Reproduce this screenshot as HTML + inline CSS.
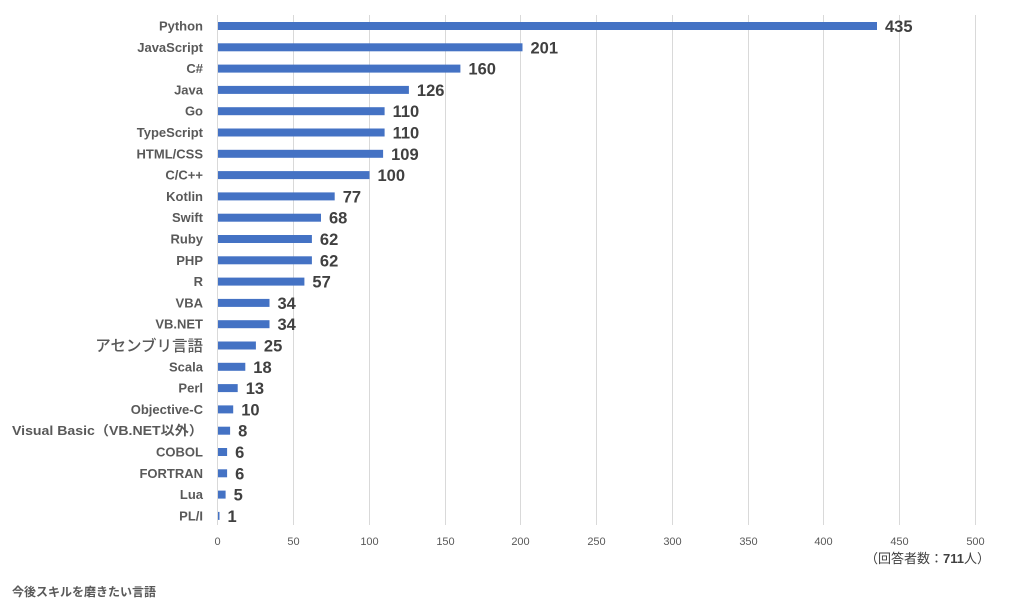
<!DOCTYPE html>
<html><head><meta charset="utf-8"><style>
html,body{margin:0;padding:0;background:#fff;}
svg{display:block;}
.lab{font-family:"Liberation Sans","Noto Sans CJK JP",sans-serif;font-weight:bold;font-size:13px;fill:#595959;}
.val{font-family:"Liberation Sans",sans-serif;font-weight:bold;font-size:16.5px;fill:#404040;}
.tick{font-family:"Liberation Sans",sans-serif;font-size:11px;fill:#595959;}
.bar{fill:#4472C4;}
</style></head><body>
<svg width="1023" height="613" viewBox="0 0 1023 613" xmlns="http://www.w3.org/2000/svg">
<g stroke="#d9d9d9" stroke-width="1">
<line x1="217.5" y1="15" x2="217.5" y2="525"/>
<line x1="293.5" y1="15" x2="293.5" y2="525"/>
<line x1="369.5" y1="15" x2="369.5" y2="525"/>
<line x1="445.5" y1="15" x2="445.5" y2="525"/>
<line x1="520.5" y1="15" x2="520.5" y2="525"/>
<line x1="596.5" y1="15" x2="596.5" y2="525"/>
<line x1="672.5" y1="15" x2="672.5" y2="525"/>
<line x1="748.5" y1="15" x2="748.5" y2="525"/>
<line x1="823.5" y1="15" x2="823.5" y2="525"/>
<line x1="899.5" y1="15" x2="899.5" y2="525"/>
<line x1="975.5" y1="15" x2="975.5" y2="525"/>
</g>
<g class="tick" text-anchor="middle">
<text x="217.5" y="545">0</text>
<text x="293.5" y="545">50</text>
<text x="369.5" y="545">100</text>
<text x="445.5" y="545">150</text>
<text x="520.5" y="545">200</text>
<text x="596.5" y="545">250</text>
<text x="672.5" y="545">300</text>
<text x="748.5" y="545">350</text>
<text x="823.5" y="545">400</text>
<text x="899.5" y="545">450</text>
<text x="975.5" y="545">500</text>
</g>

<g transform="translate(0,26)"><rect class="bar" x="218" y="-4" width="659" height="8"/><text class="lab" x="203" y="4.5" text-anchor="end">Python</text><text class="val" x="885" y="6">435</text></g>
<g transform="translate(0,47.3)"><rect class="bar" x="218" y="-4" width="304.5" height="8"/><text class="lab" x="203" y="4.5" text-anchor="end">JavaScript</text><text class="val" x="530.5" y="6">201</text></g>
<g transform="translate(0,68.6)"><rect class="bar" x="218" y="-4" width="242.4" height="8"/><text class="lab" x="203" y="4.5" text-anchor="end">C#</text><text class="val" x="468.4" y="6">160</text></g>
<g transform="translate(0,89.9)"><rect class="bar" x="218" y="-4" width="190.9" height="8"/><text class="lab" x="203" y="4.5" text-anchor="end">Java</text><text class="val" x="416.9" y="6">126</text></g>
<g transform="translate(0,111.2)"><rect class="bar" x="218" y="-4" width="166.6" height="8"/><text class="lab" x="203" y="4.5" text-anchor="end">Go</text><text class="val" x="392.6" y="6">110</text></g>
<g transform="translate(0,132.5)"><rect class="bar" x="218" y="-4" width="166.6" height="8"/><text class="lab" x="203" y="4.5" text-anchor="end">TypeScript</text><text class="val" x="392.6" y="6">110</text></g>
<g transform="translate(0,153.8)"><rect class="bar" x="218" y="-4" width="165.1" height="8"/><text class="lab" x="203" y="4.5" text-anchor="end">HTML/CSS</text><text class="val" x="391.1" y="6">109</text></g>
<g transform="translate(0,175.1)"><rect class="bar" x="218" y="-4" width="151.5" height="8"/><text class="lab" x="203" y="4.5" text-anchor="end">C/C++</text><text class="val" x="377.5" y="6">100</text></g>
<g transform="translate(0,196.4)"><rect class="bar" x="218" y="-4" width="116.7" height="8"/><text class="lab" x="203" y="4.5" text-anchor="end">Kotlin</text><text class="val" x="342.7" y="6">77</text></g>
<g transform="translate(0,217.7)"><rect class="bar" x="218" y="-4" width="103" height="8"/><text class="lab" x="203" y="4.5" text-anchor="end">Swift</text><text class="val" x="329" y="6">68</text></g>
<g transform="translate(0,239)"><rect class="bar" x="218" y="-4" width="93.9" height="8"/><text class="lab" x="203" y="4.5" text-anchor="end">Ruby</text><text class="val" x="319.9" y="6">62</text></g>
<g transform="translate(0,260.3)"><rect class="bar" x="218" y="-4" width="93.9" height="8"/><text class="lab" x="203" y="4.5" text-anchor="end">PHP</text><text class="val" x="319.9" y="6">62</text></g>
<g transform="translate(0,281.6)"><rect class="bar" x="218" y="-4" width="86.4" height="8"/><text class="lab" x="203" y="4.5" text-anchor="end">R</text><text class="val" x="312.4" y="6">57</text></g>
<g transform="translate(0,302.9)"><rect class="bar" x="218" y="-4" width="51.5" height="8"/><text class="lab" x="203" y="4.5" text-anchor="end">VBA</text><text class="val" x="277.5" y="6">34</text></g>
<g transform="translate(0,324.2)"><rect class="bar" x="218" y="-4" width="51.5" height="8"/><text class="lab" x="203" y="4.5" text-anchor="end">VB.NET</text><text class="val" x="277.5" y="6">34</text></g>
<g transform="translate(0,345.5)"><rect class="bar" x="218" y="-4" width="37.9" height="8"/><text class="lab" x="203" y="5.5" text-anchor="end" style="font-size:15.5px;font-weight:500;">アセンブリ言語</text><text class="val" x="263.9" y="6">25</text></g>
<g transform="translate(0,366.8)"><rect class="bar" x="218" y="-4" width="27.3" height="8"/><text class="lab" x="203" y="4.5" text-anchor="end">Scala</text><text class="val" x="253.3" y="6">18</text></g>
<g transform="translate(0,388.1)"><rect class="bar" x="218" y="-4" width="19.7" height="8"/><text class="lab" x="203" y="4.5" text-anchor="end">Perl</text><text class="val" x="245.7" y="6">13</text></g>
<g transform="translate(0,409.4)"><rect class="bar" x="218" y="-4" width="15.2" height="8"/><text class="lab" x="203" y="4.5" text-anchor="end">Objective-C</text><text class="val" x="241.2" y="6">10</text></g>
<g transform="translate(0,430.7)"><rect class="bar" x="218" y="-4" width="12.1" height="8"/><text class="lab" x="203" y="4.5" text-anchor="end" textLength="191" lengthAdjust="spacingAndGlyphs">Visual Basic（VB.NET以外）</text><text class="val" x="238.1" y="6">8</text></g>
<g transform="translate(0,452)"><rect class="bar" x="218" y="-4" width="9.1" height="8"/><text class="lab" x="203" y="4.5" text-anchor="end">COBOL</text><text class="val" x="235.1" y="6">6</text></g>
<g transform="translate(0,473.3)"><rect class="bar" x="218" y="-4" width="9.1" height="8"/><text class="lab" x="203" y="4.5" text-anchor="end">FORTRAN</text><text class="val" x="235.1" y="6">6</text></g>
<g transform="translate(0,494.6)"><rect class="bar" x="218" y="-4" width="7.6" height="8"/><text class="lab" x="203" y="4.5" text-anchor="end">Lua</text><text class="val" x="233.6" y="6">5</text></g>
<g transform="translate(0,515.9)"><rect class="bar" x="218" y="-4" width="1.5" height="8"/><text class="lab" x="203" y="4.5" text-anchor="end">PL/I</text><text class="val" x="227.5" y="6">1</text></g>

<text x="990" y="563" text-anchor="end" style="font-family:'Liberation Sans','Noto Sans CJK JP',sans-serif;font-size:13px;fill:#404040;">（回答者数：<tspan font-weight="bold">711</tspan>人）</text>
<text x="12" y="596" style="font-family:'Liberation Sans','Noto Sans CJK JP',sans-serif;font-size:12px;font-weight:bold;fill:#595959;">今後スキルを磨きたい言語</text>
</svg>
</body></html>
